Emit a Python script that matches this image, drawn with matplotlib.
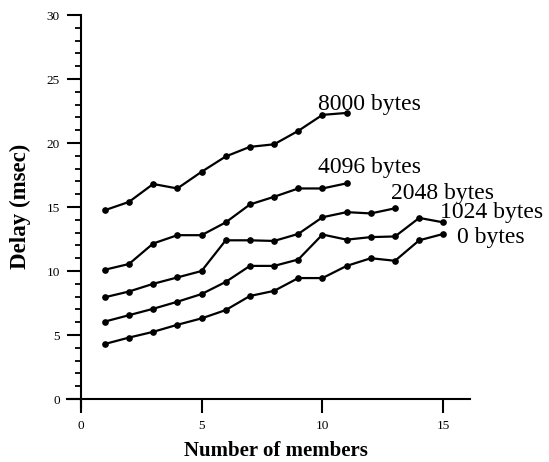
import matplotlib
matplotlib.use("Agg")
import matplotlib.pyplot as plt
from matplotlib.ticker import MultipleLocator

plt.rcParams['font.family'] = ['Liberation Serif', 'DejaVu Serif']

members_8000 = [1, 2, 3, 4, 5, 6, 7, 8, 9, 10, 11]
delay_8000 = [14.75, 15.4, 16.8, 16.45, 17.75, 18.95, 19.7, 19.9, 20.95, 22.2, 22.35]

members_4096 = [1, 2, 3, 4, 5, 6, 7, 8, 9, 10, 11]
delay_4096 = [10.1, 10.55, 12.15, 12.8, 12.8, 13.8, 15.2, 15.8, 16.45, 16.45, 16.85]

members_2048 = [1, 2, 3, 4, 5, 6, 7, 8, 9, 10, 11, 12, 13]
delay_2048 = [7.95, 8.4, 9.0, 9.5, 10.0, 12.4, 12.4, 12.35, 12.9, 14.2, 14.6, 14.5, 14.9]

members_1024 = [1, 2, 3, 4, 5, 6, 7, 8, 9, 10, 11, 12, 13, 14, 15]
delay_1024 = [6.05, 6.55, 7.05, 7.6, 8.2, 9.15, 10.4, 10.4, 10.9, 12.85, 12.45, 12.65, 12.7, 14.15, 13.8]

members_0 = [1, 2, 3, 4, 5, 6, 7, 8, 9, 10, 11, 12, 13, 14, 15]
delay_0 = [4.3, 4.8, 5.25, 5.8, 6.3, 6.95, 8.05, 8.45, 9.45, 9.45, 10.4, 11.0, 10.8, 12.4, 12.9]

series = [
    (members_8000, delay_8000, "8000 bytes", (9.8, 22.55)),
    (members_4096, delay_4096, "4096 bytes", (9.8, 17.68)),
    (members_2048, delay_2048, "2048 bytes", (12.85, 15.59)),
    (members_1024, delay_1024, "1024 bytes", (14.87, 14.17)),
    (members_0, delay_0, "0 bytes", (15.56, 12.21)),
]

fig = plt.figure(figsize=(5.49, 4.62), dpi=100)
ax = fig.add_axes([0.1226, 0.1169, 0.7335, 0.8506])

for xs, ys, label, pos in series:
    ax.plot(xs, ys, color='black', lw=1.6, marker='o', markersize=3.8)
    ax.text(pos[0], pos[1], label, fontsize=17, va='baseline', ha='left')

ax.set_xlim(-0.55, 16.1)
ax.set_ylim(-0.7, 30)
ax.spines['left'].set_position(('data', 0))
ax.spines['bottom'].set_position(('data', 0))
ax.spines['top'].set_visible(False)
ax.spines['right'].set_visible(False)
ax.spines['left'].set_linewidth(1.5)
ax.spines['bottom'].set_linewidth(1.5)

ax.set_xticks([0, 5, 10, 15])
ax.set_yticks([0, 5, 10, 15, 20, 25, 30])
ax.yaxis.set_minor_locator(MultipleLocator(1))
ax.tick_params(axis='both', which='major', direction='out', length=10, width=1.5, labelsize=9.5, pad=5)
ax.tick_params(axis='y', which='minor', direction='out', length=4, width=1.3)

fig.text(0.037, 0.554, 'Delay (msec)', rotation=90, fontsize=16.5, fontweight='bold', ha='center', va='center')
fig.text(0.503, 0.003, 'Number of members', fontsize=15, fontweight='bold', ha='center', va='bottom')

fig.savefig('out.png', dpi=100)
